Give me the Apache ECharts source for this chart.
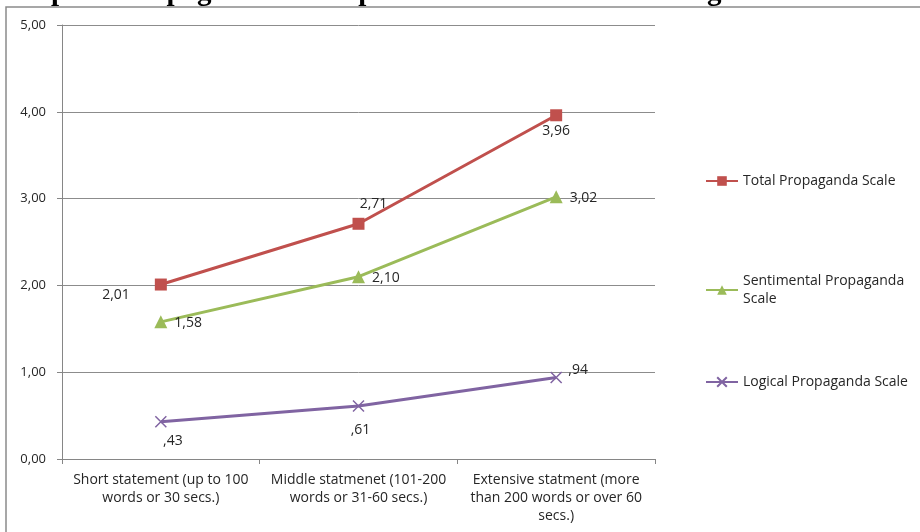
<!DOCTYPE html>
<html>
<head>
<meta charset="utf-8">
<script src="https://cdn.jsdelivr.net/npm/echarts@6/dist/echarts.min.js"></script>
<style>
  html, body { margin: 0; padding: 0; background: #fff; }
  #chart { width: 920px; height: 532px; }
</style>
</head>
<body>
<div id="chart"></div>
<script>
// Statement length categories
const categories = [
  'Short statement (up to 100\nwords or 30 secs.)',
  'Middle statmenet (101-200\nwords or 31-60 secs.)',
  'Extensive statment (more\nthan 200 words or over 60\nsecs.)'
];
const seriesNames = ['Total Propaganda Scale', 'Sentimental Propaganda Scale', 'Logical Propaganda Scale'];
const totalScale = [2.01, 2.71, 3.96];
const sentimentalScale = [1.58, 2.10, 3.02];
const logicalScale = [0.43, 0.61, 0.94];
const yTicks = [0, 1, 2, 3, 4, 5];

const FONT = '"Open Sans", "DejaVu Sans", sans-serif';
const TEXT = '#262626';

// Comma decimals, leading zero dropped below one (e.g. ,43)
function fmt(v) {
  return v.toFixed(2).replace('.', ',').replace(/^0,/, ',');
}

function label(position, offset) {
  return { show: true, position: position, offset: offset || [0, 0], formatter: p => fmt(p.value),
           color: TEXT, fontFamily: FONT, fontSize: 14 };
}

const chart = echarts.init(document.getElementById('chart'), null, { renderer: 'canvas' });

const legendCommon = {
  orient: 'vertical', left: 705, padding: 0, itemWidth: 32, itemHeight: 12, itemGap: 0,
  textStyle: { color: TEXT, fontFamily: FONT, fontSize: 14, lineHeight: 18 },
  selectedMode: false
};

chart.setOption({
  animation: false,
  backgroundColor: '#ffffff',
  graphic: [
    { type: 'rect', shape: { x: 6, y: 7, width: 930, height: 540 }, style: { fill: 'none', stroke: '#8a8a8a', lineWidth: 1.5 }, silent: true },
    { type: 'text', left: 1, top: -22, style: { text: "Graph 9: Propaganda scales per statements' duration length.",
      font: 'bold 29px "Liberation Serif", "DejaVu Serif", serif', fill: '#000' }, silent: true }
  ],
  grid: { left: 62, right: 265, top: 25, bottom: 73, containLabel: false },
  legend: [
    Object.assign({}, legendCommon, { top: 172, data: [seriesNames[0]] }),
    Object.assign({}, legendCommon, { top: 272, data: [seriesNames[1]], formatter: () => 'Sentimental Propaganda\nScale' }),
    Object.assign({}, legendCommon, { top: 373, data: [seriesNames[2]] })
  ],
  xAxis: {
    type: 'category', data: categories, boundaryGap: true,
    axisLine: { lineStyle: { color: '#868686', width: 1 } },
    axisTick: { show: true, alignWithLabel: false, length: 5, lineStyle: { color: '#868686' } },
    axisLabel: { color: TEXT, fontFamily: FONT, fontSize: 14, lineHeight: 18, margin: 12, interval: 0 },
    splitLine: { show: false }
  },
  yAxis: {
    type: 'value', min: yTicks[0], max: yTicks[yTicks.length - 1], interval: 1,
    axisLine: { show: true, lineStyle: { color: '#868686', width: 1 } },
    axisTick: { show: true, length: 5, lineStyle: { color: '#868686' } },
    axisLabel: { color: TEXT, fontFamily: FONT, fontSize: 13, margin: 16, formatter: v => v.toFixed(2).replace('.', ',') },
    splitLine: { show: true, lineStyle: { color: '#8c8c8c', width: 1 } }
  },
  series: [
    {
      name: seriesNames[0], type: 'line', data: totalScale.map((v, i) => ({
        value: v,
        label: [label('left', [-20, 10]), label('top', [15, -2]), label('bottom', [0, -2])][i]
      })),
      color: '#C0504D', lineStyle: { width: 3 }, symbol: 'rect', symbolSize: 12, showAllSymbol: true
    },
    {
      name: seriesNames[1], type: 'line', data: sentimentalScale.map((v, i) => ({
        value: v, label: label('right', [2, 1])
      })),
      color: '#9BBB59', lineStyle: { width: 3 }, symbol: 'triangle', symbolSize: 13, showAllSymbol: true
    },
    {
      name: seriesNames[2], type: 'line', data: logicalScale.map((v, i) => ({
        value: v,
        label: [label('bottom', [12, 1]), label('bottom', [2, 6]), label('top', [22, 11])][i]
      })),
      color: '#8064A2', lineStyle: { width: 3, color: '#8064A2' }, symbol: 'path://M0,0 L10,10 M10,0 L0,10', symbolSize: 11,
      itemStyle: { color: '#8064A2', borderColor: '#8064A2', borderWidth: 1.5 }, showAllSymbol: true
    }
  ]
});
</script>
</body>
</html>
